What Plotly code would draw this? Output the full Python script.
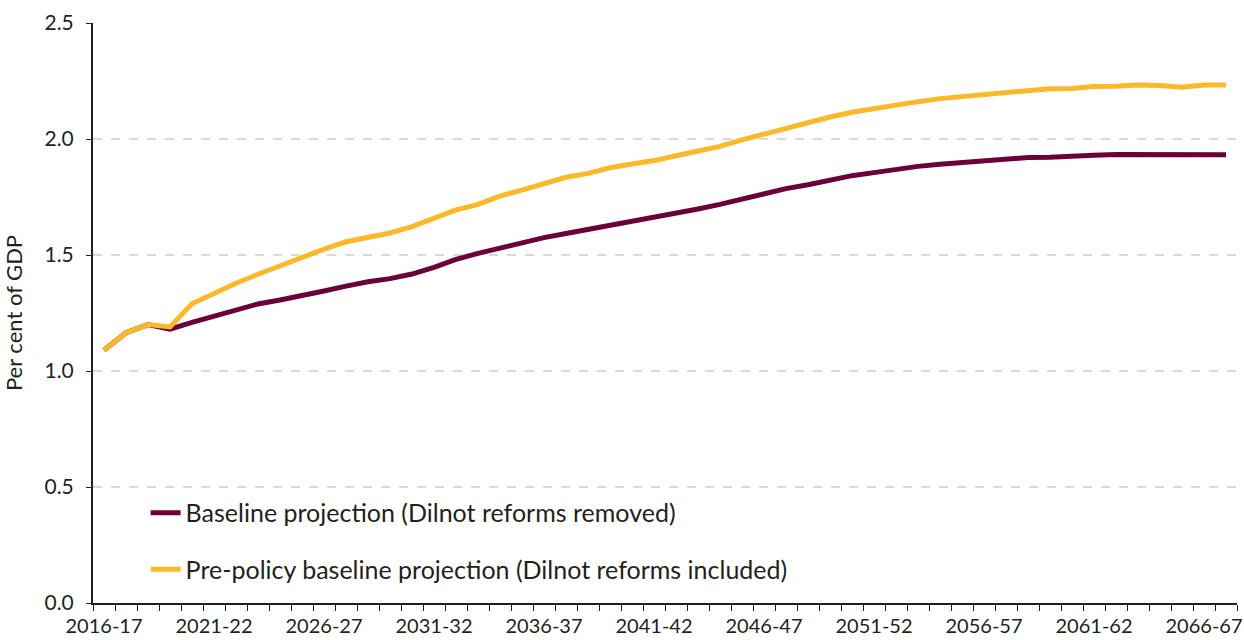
import plotly.graph_objects as go

# Financial years 2016-17 .. 2067-68 (labels shown every fifth year)
years = ["{}-{:02d}".format(y, (y + 1) % 100) for y in range(2016, 2068)]

# Per cent of GDP
baseline = [1.09, 1.165, 1.20, 1.18, 1.21, 1.237, 1.263, 1.289, 1.306, 1.323,
            1.345, 1.366, 1.385, 1.398, 1.418, 1.447, 1.481, 1.507, 1.531, 1.55,
            1.575, 1.593, 1.61, 1.627, 1.645, 1.659, 1.678, 1.698, 1.718, 1.741,
            1.767, 1.786, 1.803, 1.823, 1.842, 1.855, 1.869, 1.882, 1.891, 1.898,
            1.907, 1.914, 1.92, 1.921, 1.928, 1.93, 1.933, 1.932, 1.932, 1.932,
            1.932, 1.932]
pre_policy = [1.09, 1.165, 1.20, 1.19, 1.29, 1.335, 1.378, 1.417, 1.454, 1.49,
              1.525, 1.557, 1.575, 1.595, 1.622, 1.658, 1.694, 1.718, 1.754, 1.78,
              1.809, 1.835, 1.852, 1.876, 1.892, 1.907, 1.928, 1.946, 1.968, 1.996,
              2.022, 2.045, 2.069, 2.095, 2.115, 2.132, 2.147, 2.161, 2.174, 2.182,
              2.19, 2.2, 2.209, 2.217, 2.218, 2.226, 2.227, 2.233, 2.231, 2.223,
              2.233, 2.233]

series_names = ["Baseline projection (Dilnot reforms removed)",
                "Pre-policy baseline projection (Dilnot reforms included)"]
colours = ["#6B003A", "#FBB829"]

idx = list(range(len(years)))
label_idx = idx[::5]
label_txt = [years[i] for i in label_idx]

fig = go.Figure()
for name, vals, col in zip(series_names, [baseline, pre_policy], colours):
    fig.add_trace(go.Scatter(x=idx, y=vals, mode="lines", name=name,
                             legendgroup=name,
                             line=dict(color=col, width=5)))

txt = "#231f20"
fig.update_layout(
    width=1244, height=640,
    margin=dict(l=93, r=7, t=23, b=37),
    plot_bgcolor="white", paper_bgcolor="white",
    font=dict(family="Lato, sans-serif", size=20, color=txt),
    legend=dict(x=0.046, y=0.195, xanchor="left", yanchor="top",
                bgcolor="rgba(0,0,0,0)", font=dict(size=25),
                traceorder="grouped", tracegroupgap=21),
    showlegend=True,
)
fig.update_xaxes(
    range=[-0.5, len(years) - 0.5], automargin=False,
    tickmode="array", tickvals=label_idx, ticktext=label_txt,
    ticks="", showgrid=False, zeroline=False, ticklabelstandoff=4,
    ticklabeloverflow="allow",
    showline=True, linecolor=txt, linewidth=2,
    minor=dict(tick0=0.5, dtick=1, ticks="outside", ticklen=6,
               tickcolor=txt, tickwidth=1, showgrid=False),
)
fig.update_yaxes(
    range=[0, 2.5], dtick=0.5, tickformat=".1f", automargin=False,
    ticks="outside", ticklen=5, tickcolor=txt, ticklabelstandoff=8,
    tickfont=dict(size=21),
    showgrid=True, gridcolor="#d9d9d9", griddash="dash", gridwidth=1.5,
    zeroline=False, showline=True, linecolor=txt, linewidth=2,
    title=dict(text="Per cent of GDP", font=dict(size=22), standoff=17),
)

# drop the default 8px page margin so the figure fills the window
fig.write_html("out.html", config={"displayModeBar": False},
               post_script="document.body.style.margin='0';"
                           "document.body.style.overflow='hidden';")
